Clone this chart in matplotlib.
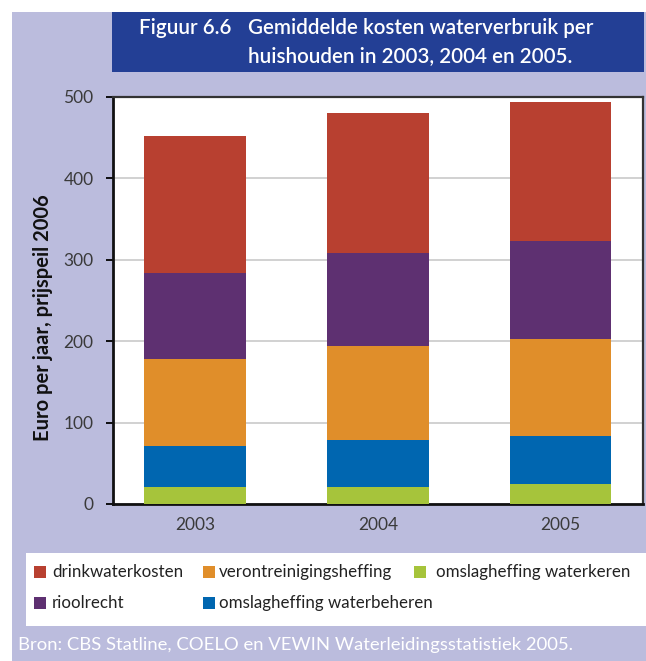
import matplotlib
matplotlib.use('Agg')
import matplotlib.pyplot as plt
from matplotlib.patches import Rectangle
import numpy as np

plt.rcParams['font.family'] = ['Lato', 'DejaVu Sans']

# kosten per component, euro per huishouden (prijspeil 2006)
years = ['2003', '2004', '2005']
waterkeren = [20.5, 21, 24]
waterbeheren = [51, 58, 60]
verontreiniging = [107, 115, 119]
rioolrecht = [105, 114, 120]
drinkwater = [168, 172, 170]

# stacking order, bottom to top
stack = [
    ('omslagheffing waterkeren', waterkeren, '#a6c43b'),
    ('omslagheffing waterbeheren', waterbeheren, '#0066b0'),
    ('verontreinigingsheffing', verontreiniging, '#e08e2a'),
    ('rioolrecht', rioolrecht, '#5e3071'),
    ('drinkwaterkosten', drinkwater, '#b84030'),
]

# legend layout: (label, column, row)
legend_rows = [
    ('drinkwaterkosten', 0, 0),
    ('verontreinigingsheffing', 1, 0),
    ('omslagheffing waterkeren', 2, 0),
    ('rioolrecht', 0, 1),
    ('omslagheffing waterbeheren', 1, 1),
]

W, H = 646, 661
LAVENDER = '#bbbcdd'
TITLE_BLUE = '#233f95'


def fx(x):
    return x / W


def fy(y):
    return 1 - y / H


def box(fig, x0, y0, x1, y1, color, z=-2):
    fig.patches.append(Rectangle((fx(x0), fy(y1)), (x1 - x0) / W, (y1 - y0) / H,
                                 transform=fig.transFigure, facecolor=color,
                                 edgecolor='none', zorder=z))


fig = plt.figure(figsize=(W / 100, H / 100), dpi=100)
fig.patch.set_facecolor('white')

# panels
box(fig, 12, 12, W, H, LAVENDER)
box(fig, 112, 12, 644, 72, TITLE_BLUE)
box(fig, 26, 553, W, 626, 'white')

# title
fig.text(fx(139), fy(28), 'Figuur 6.6', color='white', fontsize=14.8,
         fontweight='semibold', va='center', ha='left')
fig.text(fx(248), fy(28), 'Gemiddelde kosten waterverbruik per', color='white',
         fontsize=14.8, fontweight='semibold', va='center', ha='left')
fig.text(fx(248), fy(56), 'huishouden in 2003, 2004 en 2005.', color='white',
         fontsize=14.8, fontweight='semibold', va='center', ha='left')

# chart
ax = fig.add_axes([fx(113), fy(504), (643 - 113) / W, (504 - 96.7) / H])
ax.set_facecolor('white')
x = np.arange(len(years))
bottom = np.zeros(len(years))
colors = {}
for name, vals, col in stack:
    ax.bar(x, vals, width=0.555, bottom=bottom, color=col, linewidth=0, zorder=3)
    bottom += np.array(vals)
    colors[name] = col

ax.set_xlim(-0.449, 2.451)
ax.set_ylim(0, 500)
ax.set_yticks(range(0, 501, 100))
ax.set_xticks(x)
ax.set_xticklabels(years)
ax.yaxis.grid(True, color='#c9c9c9', linewidth=1.2, zorder=0)
ax.set_axisbelow(True)
ax.tick_params(axis='y', length=5, width=1.3, pad=9, labelsize=12.5,
               labelcolor='#3a3a3a', color='black')
ax.tick_params(axis='x', length=0, pad=9, labelsize=12.5, labelcolor='#3a3a3a')
for side in ['left', 'bottom']:
    ax.spines[side].set_linewidth(2)
    ax.spines[side].set_color('#111111')
for side in ['top', 'right']:
    ax.spines[side].set_linewidth(1.6)
    ax.spines[side].set_color('#333333')

fig.text(fx(43), fy(318), 'Euro per jaar, prijspeil 2006', rotation=90,
         fontsize=14.5, fontweight='bold', color='#111111', ha='center', va='center')

# legend
col_sq = [34, 203, 414]
col_tx = [52, 219, 436]
row_y = [572, 603]
for label, c, r in legend_rows:
    box(fig, col_sq[c], row_y[r] - 6, col_sq[c] + 12, row_y[r] + 6, colors[label], z=1)
    fig.text(fx(col_tx[c]), fy(row_y[r]), label, fontsize=12.2, color='#222222',
             va='center', ha='left')

fig.text(fx(18), fy(645), 'Bron: CBS Statline, COELO en VEWIN Waterleidingsstatistiek 2005.',
         fontsize=13.3, color='white', va='center', ha='left')

fig.savefig('out.png', dpi=100)
